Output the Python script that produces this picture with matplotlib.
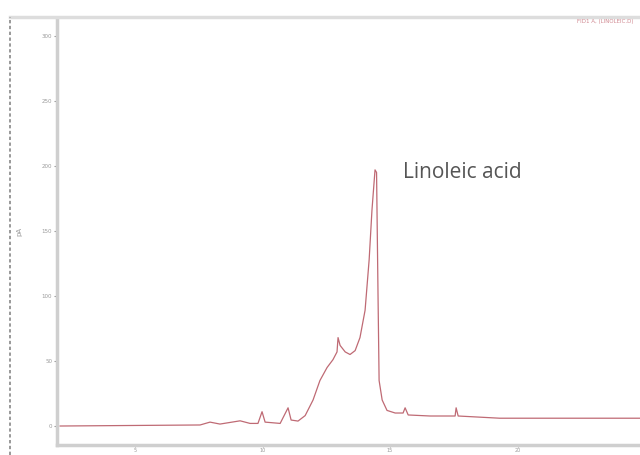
import matplotlib
matplotlib.use("Agg")
import matplotlib.pyplot as plt
from matplotlib.lines import Line2D

# Chromatogram trace (retention time, signal)
time_min = [2.06, 7.55, 7.94, 8.33, 9.12, 9.51, 9.82, 9.98, 10.1, 10.69, 11.0, 11.12,
            11.39, 11.67, 11.98, 12.25, 12.53, 12.76, 12.92, 12.96, 13.04, 13.24,
            13.43, 13.63, 13.82, 14.02, 14.18, 14.29, 14.41, 14.47, 14.53, 14.57,
            14.69, 14.88, 15.2, 15.51, 15.59, 15.71, 16.57, 17.55, 17.59, 17.67,
            19.3, 21.27, 24.8]
signal_pa = [0, 0.8, 3, 1.5, 4, 2, 2, 11, 3, 2, 14, 4.6,
             3.8, 8, 20, 35, 45, 51, 57, 68, 62, 57,
             55, 58, 68, 89, 128, 166, 197, 195, 97, 35,
             20, 12, 10, 10, 14, 8.5, 7.7, 7.7, 14, 7.7,
             6, 6, 6]

x_ticks = [5, 10, 15, 20]
y_ticks = [0, 50, 100, 150, 200, 250, 300]
peak_label = "Linoleic acid"
peak_time = 14.41
peak_signal = 197

fig = plt.figure(figsize=(6.4, 4.55), dpi=100)
ax = fig.add_axes([57 / 640, 1 - 445 / 455, 1 - 57 / 640, (445 - 18) / 455])

ax.plot(time_min, signal_pa, color="#bf6a74", lw=0.9)
ax.set_xlim(1.94, 24.8)
ax.set_ylim(-14.6, 313.8)

ax.set_xticks(x_ticks)
ax.set_yticks(y_ticks)
ax.tick_params(axis="both", labelsize=4, colors="#9a9a9a", length=2.5, width=0.8, pad=1)
ax.tick_params(axis="x", labelsize=3.5, length=1.5, pad=0.3)
for s in ["top", "right"]:
    ax.spines[s].set_visible(False)
for s in ["left", "bottom"]:
    ax.spines[s].set_color("#cfcfcf")
    ax.spines[s].set_linewidth(2.5)

ax.set_ylabel("pA", fontsize=5, color="#9a9a9a", labelpad=14)

ax.annotate(peak_label, xy=(peak_time, peak_signal), xytext=(20, -2),
            textcoords="offset points", fontsize=15, color="#555555",
            ha="left", va="center", family="Open Sans")

fig.text(0.99, 0.953, "FID1 A, (LINOLEIC.D)", fontsize=4, color="#d08890",
         ha="right", va="center")

# outer frame lines
fig.add_artist(Line2D([10 / 640, 1], [1 - 17 / 455] * 2, color="#dddddd", lw=2.5))
fig.add_artist(Line2D([10 / 640, 10 / 640], [0, 1 - 17 / 455], color="#888888",
                      lw=1.2, ls=(0, (2, 1.5))))

fig.savefig("out.png", dpi=100)
